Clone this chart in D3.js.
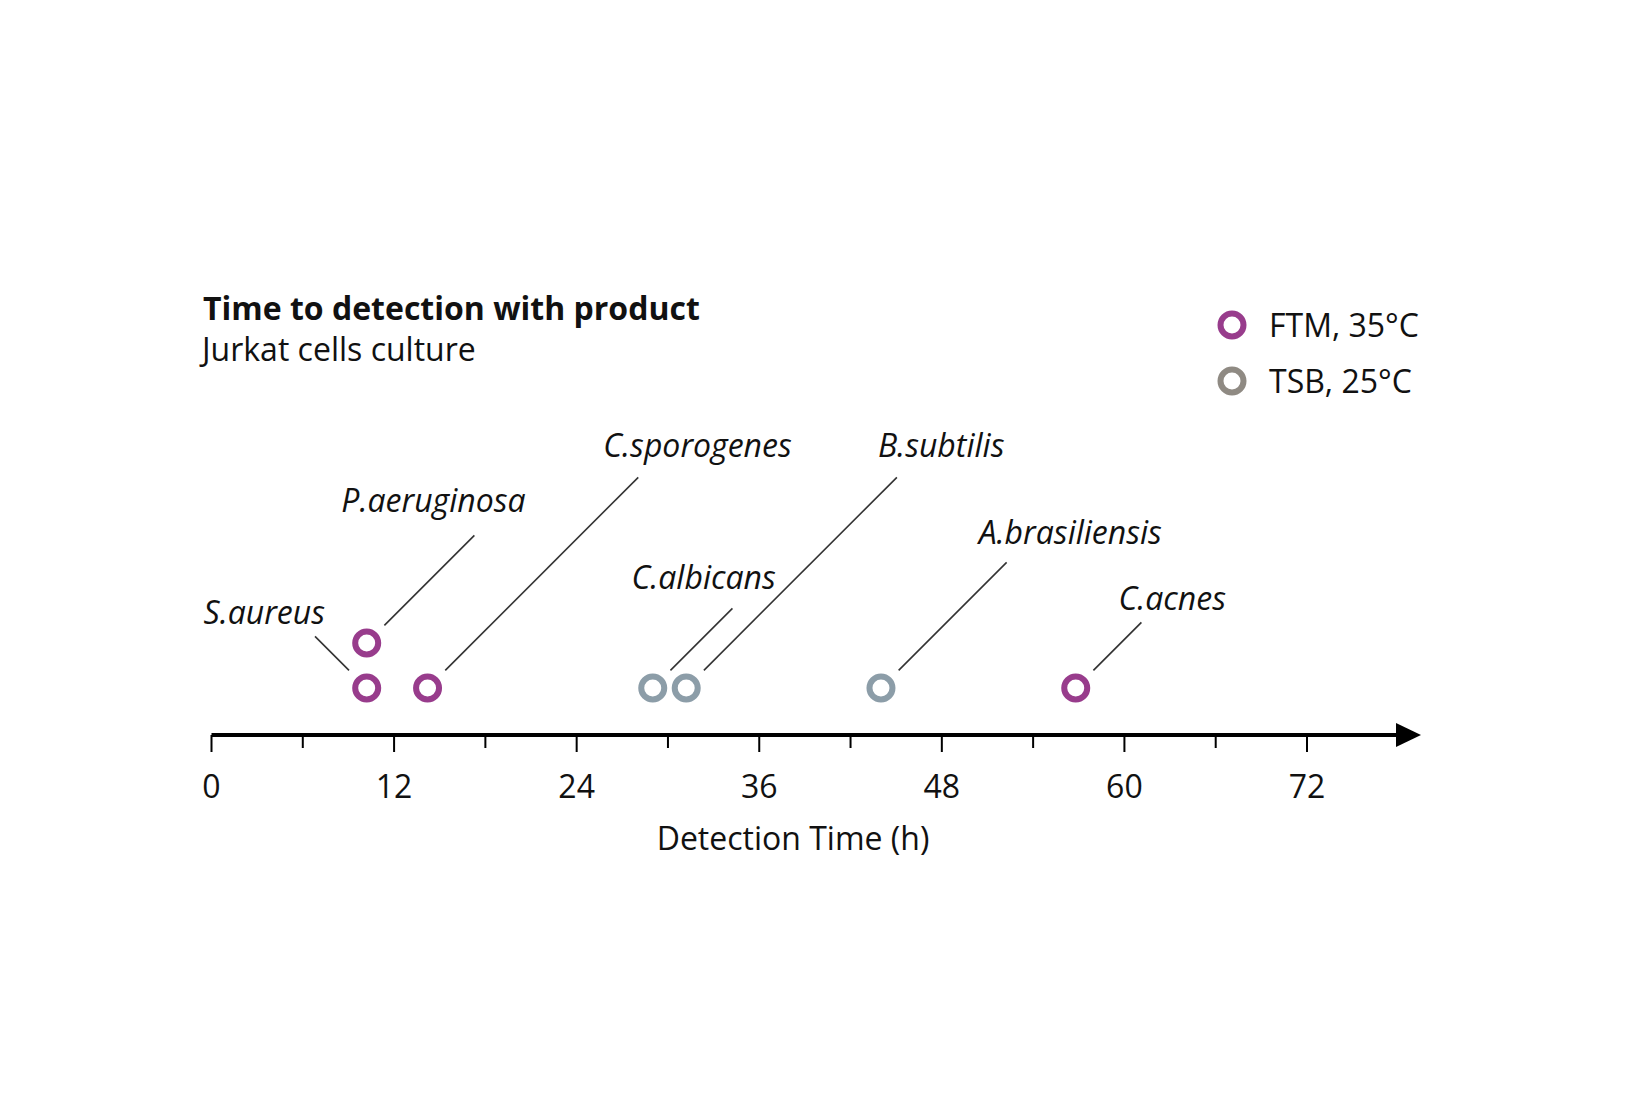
<!DOCTYPE html>
<html>
<head>
<meta charset="utf-8">
<script src="https://cdn.jsdelivr.net/npm/d3@7"></script>
<style>
  body { margin: 0; background: #fff; }
  text { font-family: "Open Sans", "Noto Sans", sans-serif; fill: #111; }
</style>
</head>
<body>
<script>
// data
const organisms = ['S.aureus', 'P.aeruginosa', 'C.sporogenes', 'C.albicans', 'B.subtilis', 'A.brasiliensis', 'C.acnes'];
const hours     = [10.2, 10.2, 14.2, 29.0, 31.2, 44.0, 56.8];
const media     = ['FTM', 'FTM', 'FTM', 'TSB', 'TSB', 'TSB', 'FTM'];
const rows      = [0, 1, 0, 0, 0, 0, 0];   // stacked when two organisms share a time
const seriesNames = ['FTM, 35°C', 'TSB, 25°C'];
const majorTicks = [0, 12, 24, 36, 48, 60, 72];
const minorTicks = [6, 18, 30, 42, 54, 66];

// leader line layout: direction (+1 right, -1 left), x-length of line, label offset from line end
const leaders = [
  { dir: -1, len: 34,  lx: 10,  ly: -12, anchor: 'end' },
  { dir: 1,  len: 90,  lx: -133, ly: -23, anchor: 'start' },
  { dir: 1,  len: 193, lx: -35, ly: -20, anchor: 'start' },
  { dir: 1,  len: 62,  lx: -101, ly: -19, anchor: 'start' },
  { dir: 1,  len: 193, lx: -19, ly: -20, anchor: 'start' },
  { dir: 1,  len: 108, lx: -28, ly: -18, anchor: 'start' },
  { dir: 1,  len: 48,  lx: -23, ly: -12, anchor: 'start' }
];

const width = 1628, height = 1120;
const axisY = 735;
const purple = '#983c8c';
const legendGrey = '#8f8a83';
const pointGrey = '#8c9da8';
const fontSize = '32px';

const svg = d3.select('body').append('svg')
    .attr('width', width)
    .attr('height', height);

svg.append('rect').attr('width', width).attr('height', height).attr('fill', '#fff');

// scales
const x = d3.scaleLinear().domain([0, 72]).range([211.5, 1307]);
const y = d3.scalePoint().domain([0, 1]).range([688, 643]);
const color = d3.scaleOrdinal().domain(['FTM', 'TSB']).range([purple, pointGrey]);

const data = organisms.map((name, i) => ({ name, h: hours[i], medium: media[i], row: rows[i], lead: leaders[i] }));

// title
svg.append('text')
    .attr('x', 203).attr('y', 320)
    .style('font-size', fontSize).style('font-weight', 700)
    .text('Time to detection with product');
svg.append('text')
    .attr('x', 202).attr('y', 361)
    .style('font-size', fontSize)
    .text('Jurkat cells culture');

// legend
const legend = svg.append('g').attr('transform', 'translate(1232,325)');
const legendCells = legend.selectAll('g')
    .data(seriesNames)
    .enter().append('g')
    .attr('transform', (d, i) => `translate(0, ${i * 56})`);
legendCells.append('circle')
    .attr('r', 11.5)
    .attr('fill', '#fff')
    .attr('stroke', (d, i) => i === 0 ? purple : legendGrey)
    .attr('stroke-width', 6);
legendCells.append('text')
    .attr('x', 37).attr('y', 12)
    .style('font-size', fontSize)
    .text(d => d);

// axis line with arrow
const axis = svg.append('g').attr('class', 'axis');
axis.append('line')
    .attr('x1', x(0)).attr('x2', 1400)
    .attr('y1', axisY).attr('y2', axisY)
    .attr('stroke', '#000').attr('stroke-width', 4);
axis.append('path')
    .attr('d', `M1396,${axisY - 12} L1421,${axisY} L1396,${axisY + 12} Z`)
    .attr('fill', '#000');

axis.selectAll('.major')
    .data(majorTicks)
    .enter().append('line')
    .attr('class', 'major')
    .attr('x1', d => x(d)).attr('x2', d => x(d))
    .attr('y1', axisY).attr('y2', axisY + 17)
    .attr('stroke', '#000').attr('stroke-width', 2);
axis.selectAll('.minor')
    .data(minorTicks)
    .enter().append('line')
    .attr('class', 'minor')
    .attr('x1', d => x(d)).attr('x2', d => x(d))
    .attr('y1', axisY).attr('y2', axisY + 13)
    .attr('stroke', '#000').attr('stroke-width', 2);
axis.selectAll('.tick-label')
    .data(majorTicks)
    .enter().append('text')
    .attr('class', 'tick-label')
    .attr('x', d => x(d)).attr('y', axisY + 63)
    .attr('text-anchor', 'middle')
    .style('font-size', fontSize)
    .text(d => d);
axis.append('text')
    .attr('x', 793).attr('y', axisY + 115)
    .attr('text-anchor', 'middle')
    .style('font-size', fontSize)
    .text('Detection Time (h)');

// leader lines and labels
const start = 25;
const notes = svg.append('g');
data.forEach(d => {
  const cx = x(d.h), cy = y(d.row), l = d.lead;
  const s = start / Math.SQRT2;
  const x1 = cx + l.dir * s, y1 = cy - s;
  const x2 = x1 + l.dir * l.len, y2 = y1 - l.len;
  notes.append('line')
      .attr('x1', x1).attr('y1', y1).attr('x2', x2).attr('y2', y2)
      .attr('stroke', '#333').attr('stroke-width', 1.6);
  notes.append('text')
      .attr('x', x2 + l.lx).attr('y', y2 + l.ly)
      .attr('text-anchor', l.anchor)
      .style('font-size', fontSize).style('font-style', 'italic')
      .text(d.name);
});

// points
svg.selectAll('.point')
    .data(data)
    .enter().append('circle')
    .attr('class', 'point')
    .attr('cx', d => x(d.h))
    .attr('cy', d => y(d.row))
    .attr('r', 11.5)
    .attr('fill', '#fff')
    .attr('stroke', d => color(d.medium))
    .attr('stroke-width', 6);
</script>
</body>
</html>
